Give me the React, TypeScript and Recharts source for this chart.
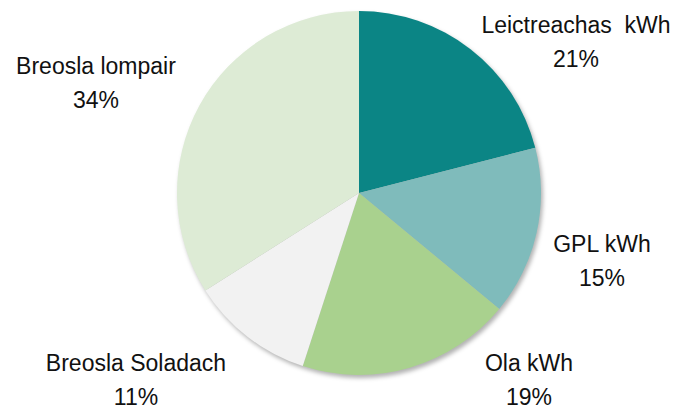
import { PieChart, Pie, Cell } from "recharts";

const fuels = ["Leictreachas  kWh", "GPL kWh", "Ola kWh", "Breosla Soladach", "Breosla lompair"];
const shares = [21, 15, 19, 11, 34];
const colors = ["#0B8585", "#7FBBBB", "#A9D18E", "#F2F2F2", "#DDEBD5"];

// label anchors (offset from pie centre): x of line centre, baseline of first line
const labelSpots = [
  [217, -160],
  [243, 59],
  [170, 178],
  [-223, 178],
  [-263, -119],
];

const data = fuels.map((name, i) => ({ name, value: shares[i] }));

function renderLabel(props: any) {
  const { cx, cy, index, name, value } = props;
  const [dx, dy] = labelSpots[index];
  const x = cx + dx;
  const y = cy + dy;
  return (
    <text
      x={x}
      y={y}
      textAnchor="middle"
      fill="#111"
      fontSize={23}
      fontFamily="'Liberation Sans', Arial, sans-serif"
      style={{ whiteSpace: "pre" }}
    >
      <tspan x={x} y={y}>{name}</tspan>
      <tspan x={x} y={y + 34}>{value}%</tspan>
    </text>
  );
}

export default function App() {
  return (
    <div style={{ width: 674, height: 409, background: "#fff" }}>
      <style>{`body{margin:0}g.recharts-pie:not(:has(.recharts-pie-labels)){filter:drop-shadow(2px 3px 2px rgba(0,0,0,0.3))}`}</style>
      <PieChart width={674} height={409} margin={{ top: 0, right: 0, bottom: 0, left: 0 }}>
        <Pie
          data={data}
          dataKey="value"
          nameKey="name"
          cx={359}
          cy={193}
          outerRadius={182}
          startAngle={90}
          endAngle={-270}
          stroke="none"
          isAnimationActive={false}
        >
          {data.map((d, i) => (
            <Cell key={d.name} fill={colors[i]} />
          ))}
        </Pie>
        {/* labels only, kept off the shadowed layer */}
        <Pie
          data={data}
          dataKey="value"
          nameKey="name"
          cx={359}
          cy={193}
          outerRadius={182}
          startAngle={90}
          endAngle={-270}
          fill="none"
          stroke="none"
          label={renderLabel}
          labelLine={false}
          isAnimationActive={false}
        />
      </PieChart>
    </div>
  );
}
